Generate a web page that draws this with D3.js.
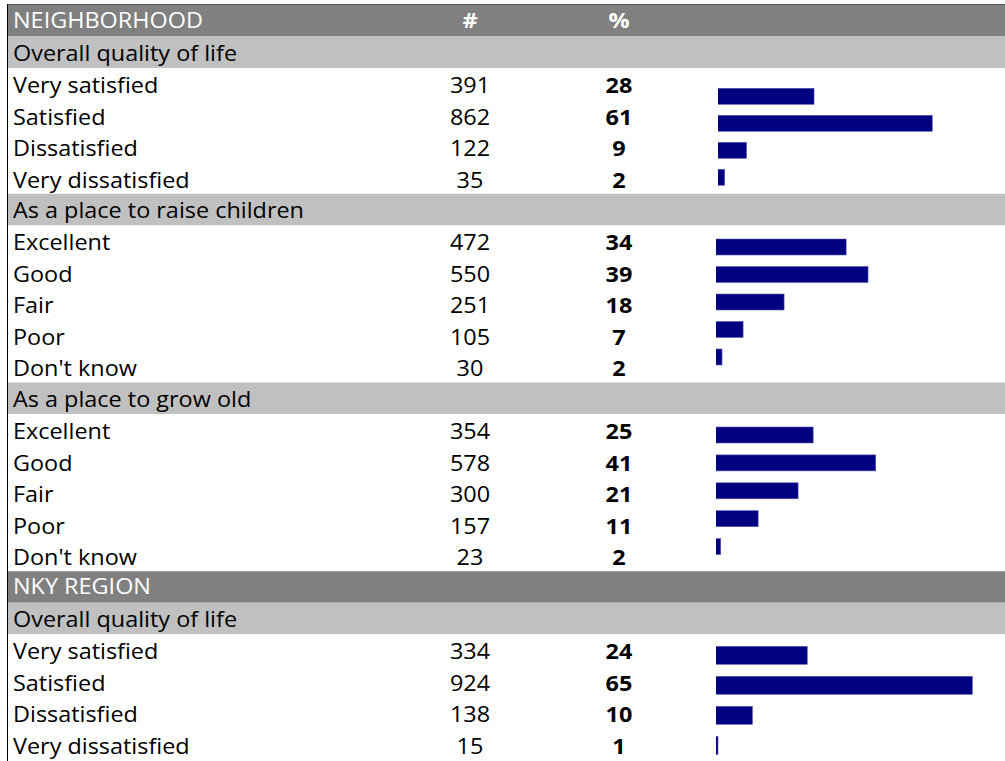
<!DOCTYPE html>
<html>
<head>
<meta charset="utf-8">
<script src="https://cdn.jsdelivr.net/npm/d3@7/dist/d3.min.js"></script>
<style>
  html, body { margin: 0; padding: 0; background: #fff; }
  svg { display: block; }
  text { font-family: "Open Sans", Lato, sans-serif; font-variant-ligatures: none; }
</style>
</head>
<body>
<svg id="chart" width="1005" height="761"></svg>
<script>
// ---------------- DATA ----------------
const sectionTitles = ["NEIGHBORHOOD", "NKY REGION"];
const columnLabels = ["#", "%"];
const groupSection = [0, 0, 0, 1];
const groupTitles = [
  "Overall quality of life",
  "As a place to raise children",
  "As a place to grow old",
  "Overall quality of life"
];
const groupCategories = [
  ["Very satisfied", "Satisfied", "Dissatisfied", "Very dissatisfied"],
  ["Excellent", "Good", "Fair", "Poor", "Don't know"],
  ["Excellent", "Good", "Fair", "Poor", "Don't know"],
  ["Very satisfied", "Satisfied", "Dissatisfied", "Very dissatisfied"]
];
const groupCounts = [
  [391, 862, 122, 35],
  [472, 550, 251, 105, 30],
  [354, 578, 300, 157, 23],
  [334, 924, 138, 15]
];
const groupPercents = [
  [28, 61, 9, 2],
  [34, 39, 18, 7, 2],
  [25, 41, 21, 11, 2],
  [24, 65, 10, 1]
];

// ---------------- LAYOUT / STYLE ----------------
const W = 1005, H = 761;
const borderLeft = 7.5, borderTop = 4.5;
const fontSize = 21;
const textScaleX = 1.115;
const colors = { section: "#808080", group: "#C0C0C0", bar: "#000080", text: "#000", sectionText: "#fff" };
const labelX = 13, countX = 470, pctX = 619;
// per-group mini bar charts (Excel-like embedded charts)
const barLayout = [
  { x0: 715.9, k: 0.2510, clip: 718, top: 88.3, step: 27.0, h: 16 },
  { x0: 713.6, k: 0.2808, clip: 716, top: 239.0, step: 27.5, h: 16 },
  { x0: 714.3, k: 0.2793, clip: 716, top: 427.0, step: 27.9, h: 16 },
  { x0: 713.8, k: 0.2798, clip: 716, top: 646.3, step: 30.0, h: 18 }
];

// build row list
const rows = [];
let lastSection = -1;
groupTitles.forEach((t, g) => {
  if (groupSection[g] !== lastSection) {
    lastSection = groupSection[g];
    rows.push({ type: "section", label: sectionTitles[lastSection] });
  }
  rows.push({ type: "group", label: t });
  groupCategories[g].forEach((c, i) => {
    rows.push({ type: "item", label: c, count: groupCounts[g][i], pct: groupPercents[g][i] });
  });
});

const y = d3.scaleBand().domain(d3.range(rows.length)).range([5, 760]).padding(0);

const svg = d3.select("#chart");

// band backgrounds
svg.append("g").selectAll("rect")
  .data(rows.map((r, i) => ({ ...r, i })).filter(r => r.type !== "item"))
  .join("rect")
  .attr("x", borderLeft + 0.5)
  .attr("y", d => y(d.i))
  .attr("width", W - borderLeft)
  .attr("height", y.bandwidth())
  .attr("fill", d => d.type === "section" ? colors.section : colors.group);

// borders
svg.append("line").attr("x1", borderLeft).attr("x2", W).attr("y1", borderTop).attr("y2", borderTop)
  .attr("stroke", "#555").attr("stroke-width", 1);
svg.append("line").attr("x1", borderLeft).attr("x2", borderLeft).attr("y1", borderTop - 0.5).attr("y2", H)
  .attr("stroke", "#000").attr("stroke-width", 1);

// texts (slightly widened to mimic the original Calibri proportions)
const tg = svg.append("g").attr("transform", `scale(${textScaleX},1)`);
const sx = v => v / textScaleX;
const baseOffset = { section: 7.5, group: 8.5, item: 9.5 };
const rowBase = (i, type) => y(i) + y.bandwidth() / 2 + baseOffset[type];

rows.forEach((r, i) => {
  const by = rowBase(i, r.type);
  const fill = r.type === "section" ? colors.sectionText : colors.text;
  tg.append("text")
    .attr("x", sx(labelX)).attr("y", by)
    .attr("font-size", fontSize).attr("fill", fill)
    .text(r.label);
  if (r.type === "section" && i === 0) {
    [countX, pctX].forEach((cx, j) => {
      tg.append("text").attr("x", sx(cx)).attr("y", by)
        .attr("text-anchor", "middle").attr("font-size", fontSize)
        .attr("font-weight", "bold").attr("fill", fill)
        .text(columnLabels[j]);
    });
  }
  if (r.type === "item") {
    tg.append("text").attr("x", sx(countX)).attr("y", by)
      .attr("text-anchor", "middle").attr("font-size", fontSize).attr("fill", fill)
      .text(r.count);
    tg.append("text").attr("x", sx(pctX)).attr("y", by)
      .attr("text-anchor", "middle").attr("font-size", fontSize).attr("font-weight", "bold").attr("fill", fill)
      .text(r.pct);
  }
});

// bars
const defs = svg.append("defs");
barLayout.forEach((L, g) => {
  const cats = groupCategories[g];
  const n = cats.length;
  const x = d3.scaleLinear().domain([0, 1000]).range([L.x0, L.x0 + 1000 * L.k]);
  const yb = d3.scaleBand().domain(cats)
    .range([L.top, L.top + (n - 1) * L.step + L.h])
    .paddingInner(1 - L.h / L.step).paddingOuter(0);
  defs.append("clipPath").attr("id", "clip" + g)
    .append("rect").attr("x", L.clip).attr("y", 0).attr("width", W - L.clip).attr("height", H);
  svg.append("g").attr("clip-path", `url(#clip${g})`)
    .selectAll("rect")
    .data(cats.map((c, i) => ({ c, v: groupCounts[g][i] })))
    .join("rect")
    .attr("x", x(0))
    .attr("y", d => yb(d.c))
    .attr("width", d => x(d.v) - x(0))
    .attr("height", yb.bandwidth())
    .attr("fill", colors.bar)
    .attr("stroke", "#5a5ab0").attr("stroke-width", 0.6);
});
</script>
</body>
</html>
